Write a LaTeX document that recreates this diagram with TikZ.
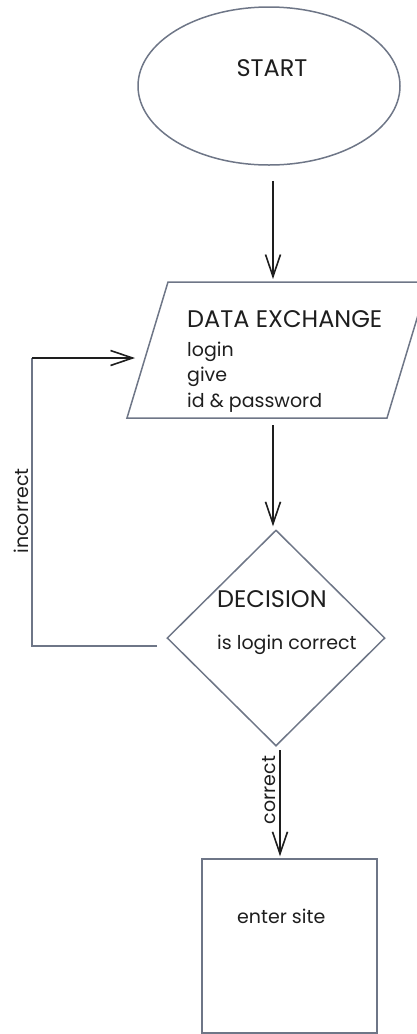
\documentclass[tikz,border=0pt]{standalone}
\usepackage{fontspec}
\setmainfont{Poppins}
\usetikzlibrary{shapes.geometric,arrows.meta}
\definecolor{outl}{HTML}{6E7687}
\definecolor{ink}{HTML}{1E1E1E}
\tikzset{
  shapeline/.style={draw=outl, line width=1.5pt, inner sep=0pt},
  arr/.style={draw=ink, line width=1.6pt, -{Straight Barb[length=22pt,width=15pt,line width=1.6pt]}},
  loopline/.style={draw=outl, line width=1.6pt},
  big/.style={font=\fontsize{24}{28}\selectfont, text=ink, inner sep=0pt},
  small/.style={font=\fontsize{19}{23}\selectfont, text=ink, inner sep=0pt},
}
\begin{document}
\begin{tikzpicture}[x=1pt,y=1pt]
\useasboundingbox (0,0) rectangle (416,-1034);
% start
\node[shapeline, ellipse, minimum width=262pt, minimum height=158pt] (start) at (269,-86) {};
\node[big, anchor=base] (starttxt) at (272,-76) {START};
% data exchange (parallelogram)
\coordinate (ptl) at (168,-282);
\coordinate (ptr) at (428,-282);
\coordinate (pbr) at (387,-418);
\coordinate (pbl) at (127,-418);
\coordinate (ptop) at (273,-282);
\coordinate (pbot) at (273,-418);
\draw[draw=outl, line width=1.5pt, line join=miter] (ptl) -- (ptr) -- (pbr) -- (pbl) -- cycle;
\node[big, anchor=base west] (d1) at (187,-327) {DATA EXCHANGE};
\node[small, anchor=base west] (d2) at (187,-356) {login};
\node[small, anchor=base west] (d3) at (187,-381) {give};
\node[small, anchor=base west] (d4) at (187,-407) {id \& password};
% decision
\node[shapeline, diamond, aspect=1, minimum width=218pt, minimum height=216pt] (dec) at (276,-638) {};
\node[big, anchor=base west] (dectxt) at (217,-607) {DECISION};
\node[small, anchor=base west] (dectxt2) at (217,-649) {is login correct};
% enter site
\node[shapeline, rectangle, minimum width=175pt, minimum height=174pt] (site) at (289.5,-946) {};
\node[small, anchor=base west] (sitetxt) at (237,-923) {enter site};
% connectors
\draw[arr, shorten <=15pt, shorten >=3pt] (start.south -| ptop) -- (ptop);
\draw[arr, shorten <=7pt, shorten >=3pt] (pbot) -- (dec.north -| pbot);
\coordinate (lbr) at (157,-646);
\coordinate (lb) at (32,-646);
\coordinate (lt) at (32,-358);
\coordinate (ltip) at (135,-358);
\draw[loopline] (lbr) -- (lb) -- (lt);
\draw[arr] (lt) -- (ltip);
\node[small, rotate=90, anchor=base] (inc) at (28,-511) {incorrect};
\coordinate (cs) at (280,-750);
\draw[arr, shorten >=2pt] (cs) -- (site.north -| cs);
\node[small, rotate=90, anchor=base] (cor) at (275,-790) {correct};
\end{tikzpicture}
\end{document}
